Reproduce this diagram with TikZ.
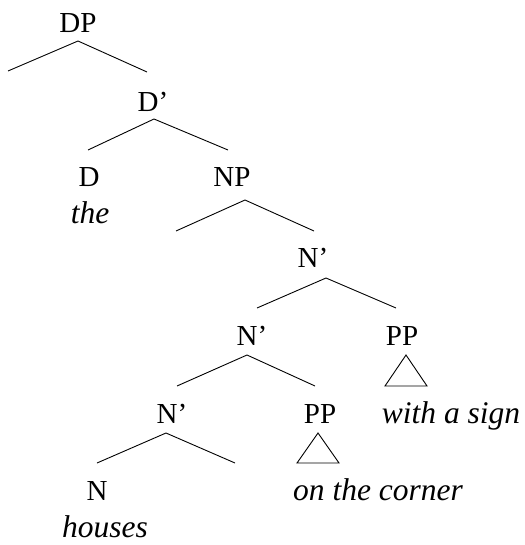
\documentclass[tikz,border=0pt]{standalone}
\usepackage{fontspec}
\setmainfont{Liberation Serif}
\begin{document}
\begin{tikzpicture}[x=1pt,y=-1pt,
  lab/.style={anchor=base,inner sep=0pt,font=\fontsize{29}{32}\selectfont},
  word/.style={anchor=base,inner sep=0pt,font=\fontsize{31.5}{34}\selectfont\itshape},
  branch/.style={line width=0.9pt},
  tri/.style={line width=0.9pt,line join=miter}]
\useasboundingbox (0,0) rectangle (524,545);
% labels
\node[lab] (dp) at (78,33) {DP};
\node[lab] (dbar) at (153,112) {D’};
\node[lab] (d) at (89,187) {D};
\node[word] (the) at (90,223) {the};
\node[lab] (np) at (232,187) {NP};
\node[lab] (nbar1) at (313,267) {N’};
\node[lab] (nbar2) at (252,345) {N’};
\node[lab] (pp1) at (402,345) {PP};
\node[lab] (nbar3) at (172,423) {N’};
\node[lab] (pp2) at (320,423) {PP};
\node[word] (sign) at (451,423) {with a sign};
\node[word] (corner) at (378,500) {on the corner};
\node[lab] (n) at (97,500) {N};
\node[word] (houses) at (105,537) {houses};
% branch points
\coordinate (a1) at (78,41);  \coordinate (l1) at (8,71);   \coordinate (r1) at (147,72);
\coordinate (a2) at (154,119);\coordinate (l2) at (88,150); \coordinate (r2) at (228,150);
\coordinate (a3) at (245,200);\coordinate (l3) at (176,231);\coordinate (r3) at (314,231);
\coordinate (a4) at (326,278);\coordinate (l4) at (257,308);\coordinate (r4) at (396,308);
\coordinate (a5) at (247,355);\coordinate (l5) at (177,386);\coordinate (r5) at (315,386);
\coordinate (a6) at (166,433);\coordinate (l6) at (97,463); \coordinate (r6) at (235,463);
\coordinate (t1) at (406,355);\coordinate (t1l) at (385,386);\coordinate (t1r) at (427,386);
\coordinate (t2) at (318,433);\coordinate (t2l) at (297,463);\coordinate (t2r) at (339,463);
\draw[branch] (l1) -- (a1) -- (r1);
\draw[branch] (l2) -- (a2) -- (r2);
\draw[branch] (l3) -- (a3) -- (r3);
\draw[branch] (l4) -- (a4) -- (r4);
\draw[branch] (l5) -- (a5) -- (r5);
\draw[branch] (l6) -- (a6) -- (r6);
\draw[tri] (t1) -- (t1l) -- (t1r) -- cycle;
\draw[tri] (t2) -- (t2l) -- (t2r) -- cycle;
\end{tikzpicture}
\end{document}
